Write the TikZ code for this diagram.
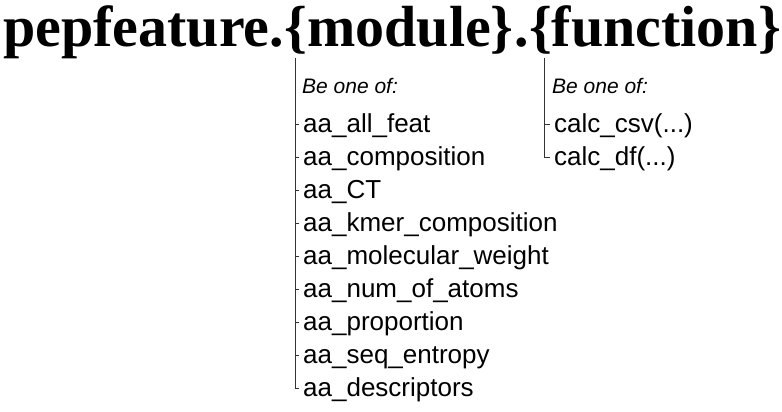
\documentclass[tikz,border=0pt]{standalone}
\usepackage{fontspec}
\setmainfont{Liberation Serif}
\setsansfont{Liberation Sans}
\usetikzlibrary{positioning}

\tikzset{
  titlepart/.style={anchor=base west, inner sep=0pt, font=\bfseries\fontsize{58}{60}\selectfont},
  hint/.style={anchor=base west, inner sep=0pt, font=\sffamily\itshape\fontsize{21}{24}\selectfont},
  entry/.style={anchor=base west, inner sep=0pt, text height=19.5pt, text depth=5.2pt, font=\sffamily\fontsize{26}{28}\selectfont},
  branch/.style={line width=0.8pt, draw=black!80},
}

\begin{document}
\begin{tikzpicture}[x=1pt,y=-1pt]
    \useasboundingbox (0,0) rectangle (782,412);
    % title
    \node[titlepart] (pkg) at (3,47) {pepfeature.};
    \node[titlepart] (module) at (pkg.base east) {\{module\}};
    \node[titlepart] (dot) at (module.base east) {.};
    \node[titlepart] (function) at (dot.base east) {\{function\}};

    % module choices
    \coordinate (mtop) at (295,58);
    \node[hint] (mhint) at (302,93) {Be one of:};
    \foreach \name [count=\i] in {all\_feat, composition, CT, kmer\_composition, molecular\_weight, num\_of\_atoms, proportion, seq\_entropy, descriptors}
        \node[entry] (m\i) at (303,{99+33*\i}) {aa\_\name};
    \draw[branch] (mtop) |- ([xshift=-4pt]m9.west);
    \foreach \i in {1,...,8}
        \draw[branch] (mtop |- m\i.west) -- ([xshift=-4pt]m\i.west);

    % function choices
    \coordinate (ftop) at (544,58);
    \node[hint] (fhint) at (552,93) {Be one of:};
    \node[entry] (f1) at (554,132) {calc\_csv(...)};
    \node[entry] (f2) at (554,165) {calc\_df(...)};
    \draw[branch] (ftop) |- ([xshift=-4pt]f2.west);
    \draw[branch] (ftop |- f1.west) -- ([xshift=-4pt]f1.west);
\end{tikzpicture}
\end{document}
